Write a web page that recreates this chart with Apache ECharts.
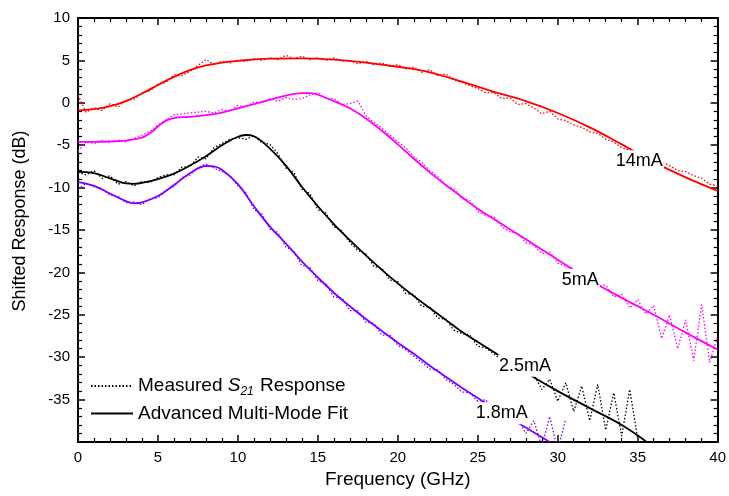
<!DOCTYPE html>
<html><head><meta charset="utf-8">
<script src="https://cdn.jsdelivr.net/npm/echarts@6/dist/echarts.min.js"></script>
<style>html,body{margin:0;padding:0;background:#fff}#c{width:729px;height:496px}</style>
</head><body><div id="c"></div>
<script>
// ---- data ----
const measFreq = [
  0,0.5,1,1.5,2,2.5,3,3.5,4,4.5, 5,5.5,6,6.5,7,7.5,8,8.5,9,9.5,
  10,10.5,11,11.5,12,12.5,13,13.5,14,14.5, 15,15.5,16,16.5,17,17.5,18,18.5,19,19.5,
  20,20.5,21,21.5,22,22.5,23,23.5,24,24.5, 25,25.5,26,26.5,27,27.5,28,28.5,29,29.5,
  30,30.5,31,31.5,32,32.5,33,33.5,34,34.5, 35,35.5,36,36.5,37,37.5,38,38.5,39,39.5, 40];
const meas14mA = [
  0.9,-1.1,-0.6,-0.9,-0.1,-0.5,0.3,0.4,1.2,1.4, 2.2,2.4,3.3,3.2,3.7,4.4,5.1,4.5,4.9,4.7,
  5.0,4.9,5.2,5.0,5.3,5.1,5.6,5.2,5.5,5.1, 5.3,5.0,5.3,4.9,5.0,4.6,4.9,4.5,4.7,4.3,
  4.5,4.0,4.2,3.6,3.9,3.2,3.4,2.7,2.4,2.0, 1.7,1.2,1.2,0.5,0.6,-0.2,-0.1,-0.6,-1.3,-1.0,
  -1.9,-2.1,-2.6,-2.9,-3.4,-3.6,-4.3,-4.6,-5.3,-5.6, -6.0,-6.4,-6.8,-7.0,-7.4,-8.0,-8.1,-8.6,-8.9,-9.6, -9.8];
const meas5mA = [
  -5.7,-4.6,-4.8,-4.5,-4.7,-4.4,-4.6,-4.2,-3.8,-3.4, -2.6,-2.0,-1.4,-1.3,-1.2,-1.1,-1.0,-1.2,-0.8,-1.0,
  -0.3,-0.5,0.1,0.0,0.5,0.2,0.6,0.4,0.5,0.9, 1.2,0.5,0.5,-0.2,-0.1,0.2,-1.5,-2.3,-3.0,-3.8,
  -4.6,-5.3,-6.4,-7.0,-8.0,-8.7,-9.8,-10.1,-11.3,-11.5, -12.8,-13.3,-13.4,-14.6,-15.2,-15.4,-16.5,-16.8,-17.8,-17.6,
  -18.9,-19.3,-19.6,-20.4,-21.0,-21.6,-21.5,-22.9,-22.6,-24.2, -23.2,-24.9,-23.9,-27.8,-25.0,-29.0,-25.6,-30.4,-23.8,-30.6, -27.5];
const meas2p5mA = [
  -8.2,-8.5,-8.0,-8.9,-8.6,-9.6,-9.3,-9.8,-9.3,-9.4, -8.8,-8.5,-8.5,-7.6,-7.5,-6.4,-6.6,-5.3,-4.8,-4.3,
  -4.1,-4.3,-3.9,-4.7,-4.9,-6.0,-7.7,-8.2,-10.2,-10.7, -12.6,-13.0,-14.6,-15.1,-16.5,-17.4,-17.8,-19.3,-19.5,-20.9,
  -21.1,-22.5,-22.6,-24.0,-24.1,-25.4,-25.5,-26.8,-27.2,-27.4, -28.7,-28.9,-29.6,-30.3,-30.7,-31.5,-31.4,-32.0,-33.8,-32.6,
  -35.2,-33.0,-36.4,-33.4,-37.5,-33.2,-38.6,-34.2,-39.3,-33.8, -39.6,null,null,null,null,null,null,null,null,null, null];
const meas1p8mA = [
  -10.2,-9.5,-9.9,-10.1,-10.9,-11.0,-11.8,-11.7,-12.0,-11.3, -11.2,-10.3,-9.9,-8.8,-8.5,-7.7,-7.2,-7.7,-8.1,-8.6,
  -9.8,-10.6,-12.6,-13.1,-14.9,-15.3,-17.0,-17.5,-19.2,-19.4, -21.0,-21.3,-22.9,-23.0,-24.5,-24.5,-25.9,-26.0,-27.4,-27.4,
  -28.6,-29.1,-29.9,-30.6,-31.4,-31.5,-32.6,-33.2,-34.1,-34.2, -35.2,-35.0,-36.3,-36.6,-37.6,-37.1,-39.0,-37.5,-40.5,-37.0,
  -41.0,-37.3,null,null,null,null,null,null,null,null, null,null,null,null,null,null,null,null,null,null, null];

const fitFreq14mA = [0,1,2,3,4,5,6,7,8,9,10,12,14,16,18,20,22,24,26,28,30,32,34,36,38,40];
const fit14mA     = [-0.9,-0.75,-0.4,0.2,1.1,2.1,3.05,3.85,4.4,4.75,4.95,5.2,5.25,5.1,4.75,4.25,3.6,2.5,1.3,0.2,-1.2,-2.9,-4.9,-7.0,-8.8,-10.4];
const fitFreq5mA = [0,1,2,3,4,4.5,5,5.5,6,7,8,9,10,11,12,13,14,14.5,15,16,17,18,19,20,21,22,23,24,25,26,27,28,29,30,32,34,36,38,40];
const fit5mA     = [-4.6,-4.6,-4.55,-4.45,-4.1,-3.6,-2.8,-2.1,-1.8,-1.65,-1.45,-1.15,-0.65,-0.15,0.35,0.85,1.15,1.15,0.95,0.2,-0.65,-1.85,-3.3,-4.9,-6.6,-8.2,-9.7,-11.1,-12.5,-13.7,-14.9,-16.1,-17.3,-18.5,-20.9,-23.0,-25.0,-27.1,-29.1];
const fitFreq2p5mA = [0,1,2,3,3.5,4,5,6,7,8,9,10,10.5,11,12,13,14,15,16,17,18,19,20,21,22,23,24,25,26,28,30,32,34,35.5];
const fit2p5mA     = [-8.15,-8.3,-8.9,-9.5,-9.55,-9.45,-9.0,-8.35,-7.4,-6.3,-5.0,-4.0,-3.8,-3.95,-5.4,-7.4,-9.9,-12.2,-14.3,-16.2,-18.0,-19.7,-21.3,-22.8,-24.2,-25.6,-27.0,-28.2,-29.4,-31.8,-34.0,-36.0,-38.0,-39.9];
const fitFreq1p8mA = [0,1,2,3,3.5,4,5,6,7,8,8.5,9,10,11,12,13,14,15,16,17,18,19,20,21,22,23,24,25,26,27,28,29.5];
const fit1p8mA     = [-9.35,-9.8,-10.7,-11.6,-11.85,-11.75,-11.0,-9.7,-8.3,-7.45,-7.5,-7.9,-9.6,-12.2,-14.6,-16.6,-18.7,-20.6,-22.4,-24.0,-25.5,-26.9,-28.3,-29.6,-31.0,-32.3,-33.6,-34.8,-36.0,-37.1,-38.3,-40.0];

const currentLabels = ['14mA','5mA','2.5mA','1.8mA'];
const labelFreq  = [35.1, 31.4, 27.95, 26.5];
const labelLevel = [-6.9, -20.9, -31.0, -36.6];

const xTicks = [0,5,10,15,20,25,30,35,40];
const yTicks = [-35,-30,-25,-20,-15,-10,-5,0,5,10];

// ---- styling ----
const FONT = 'Liberation Sans, Arial, Helvetica, sans-serif';
const colors = {'14mA':'#ff0000','5mA':'#ff00ff','2.5mA':'#000000','1.8mA':'#7f00ff'};
const pairs = (xs, ys) => xs.map((x, i) => [x, ys[i]]);

const measSets = [['14mA', meas14mA], ['5mA', meas5mA], ['2.5mA', meas2p5mA], ['1.8mA', meas1p8mA]];
const fitSets = [['14mA', fitFreq14mA, fit14mA], ['5mA', fitFreq5mA, fit5mA], ['2.5mA', fitFreq2p5mA, fit2p5mA], ['1.8mA', fitFreq1p8mA, fit1p8mA]];

const series = [];
measSets.forEach(([k, v]) => series.push({
  type: 'line', name: 'm' + k, data: pairs(measFreq, v), symbol: 'none', connectNulls: false,
  lineStyle: {color: colors[k], width: 1.3, type: [1.5, 2]}, itemStyle: {color: colors[k]}, z: 2, silent: true
}));
fitSets.forEach(([k, f, v]) => series.push({
  type: 'line', name: 'f' + k, data: pairs(f, v), symbol: 'none', smooth: 0.4,
  lineStyle: {color: colors[k], width: 1.8}, itemStyle: {color: colors[k]}, z: 3, silent: true
}));
series.push({type: 'line', name: 'meas', data: [], symbol: 'none', itemStyle: {color: '#000'}, lineStyle: {color: '#000', width: 1.2, type: [1.5, 2]}});
series.push({type: 'line', name: 'fit', data: [], symbol: 'none', itemStyle: {color: '#000'}, lineStyle: {color: '#000', width: 1.8}});
series.push({
  type: 'scatter', name: 'labels', z: 10, symbolSize: 0, silent: true,
  itemStyle: {opacity: 1},
  data: currentLabels.map((t, i) => ({value: [labelFreq[i], labelLevel[i]], name: t})),
  label: {show: true, position: 'inside', formatter: p => p.name, color: '#000', fontSize: 18, fontFamily: FONT,
          backgroundColor: '#fff', padding: [2, 1]}
});

const axisCommonX = {
  type: 'value', min: 0, max: 40, interval: 5,
  axisLine: {show: true, onZero: false, lineStyle: {color: '#000', width: 2}},
  axisTick: {show: true, inside: true, length: 7, lineStyle: {color: '#000', width: 1.5}},
  minorTick: {show: true, splitNumber: 5, length: 4, lineStyle: {color: '#000', width: 1.2}},
  splitLine: {show: false}
};
const axisCommonY = {
  type: 'value', min: -40, max: 10, interval: 5,
  axisLine: {show: true, onZero: false, lineStyle: {color: '#000', width: 2}},
  axisTick: {show: true, inside: true, length: 7, lineStyle: {color: '#000', width: 1.5}},
  minorTick: {show: true, splitNumber: 5, length: 4, lineStyle: {color: '#000', width: 1.2}},
  splitLine: {show: false}
};

const chart = echarts.init(document.getElementById('c'), null, {renderer: 'canvas'});
chart.setOption({
  animation: false,
  backgroundColor: '#fff',
  grid: {left: 78, right: 8, top: 18, bottom: 54, containLabel: false},
  xAxis: [
    Object.assign({}, axisCommonX, {
      position: 'bottom', name: 'Frequency (GHz)', nameLocation: 'middle', nameGap: 28,
      nameTextStyle: {color: '#000', fontSize: 19, fontFamily: FONT},
      axisLabel: {color: '#000', fontSize: 15, fontFamily: FONT, margin: 8,
                  formatter: v => xTicks.includes(v) ? String(v) : ''}
    }),
    Object.assign({}, axisCommonX, {position: 'top', axisLabel: {show: false}})
  ],
  yAxis: [
    Object.assign({}, axisCommonY, {
      position: 'left', name: 'Shifted Response (dB)', nameLocation: 'middle', nameGap: 49,
      nameTextStyle: {color: '#000', fontSize: 18, fontFamily: FONT, padding: [0, 0, 0, 18]},
      axisLabel: {color: '#000', fontSize: 15, fontFamily: FONT, margin: 8,
                  formatter: v => yTicks.includes(v) ? String(v) : ''}
    }),
    Object.assign({}, axisCommonY, {position: 'right', axisLabel: {show: false}})
  ],
  legend: {
    orient: 'vertical', left: 90, top: 375, padding: 0, itemWidth: 42, itemHeight: 14, itemGap: 6,
    data: ['meas', 'fit'], selectedMode: false,
    itemStyle: {opacity: 0},
    formatter: n => n === 'meas' ? '{t|Measured }{s|S}{b|21}{t| Response}' : '{t|Advanced Multi-Mode Fit}',
    textStyle: {color: '#000', fontSize: 19, fontFamily: FONT,
      rich: {
        t: {fontSize: 19, fontFamily: FONT, color: '#000', lineHeight: 24},
        s: {fontSize: 19, fontFamily: FONT, color: '#000', fontStyle: 'italic', lineHeight: 24},
        b: {fontSize: 12, fontFamily: FONT, color: '#000', fontStyle: 'italic', lineHeight: 13, verticalAlign: 'bottom', padding: [11, 1, 0, 0]}
      }}
  },
  series: series
});
</script></body></html>
